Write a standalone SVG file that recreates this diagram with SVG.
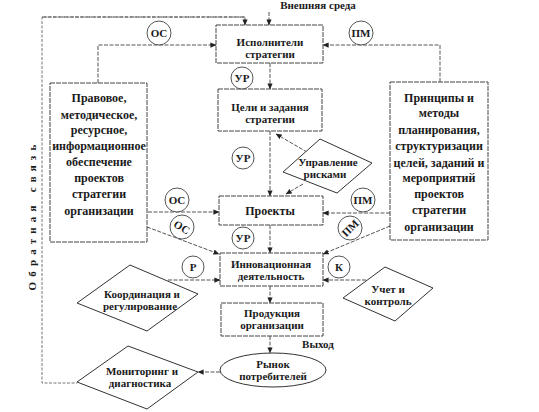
<svg xmlns="http://www.w3.org/2000/svg" width="539" height="412" viewBox="0 0 539 412">
<defs>
<marker id="ah" viewBox="0 0 8 8" refX="7.5" refY="4" markerWidth="6" markerHeight="6" orient="auto" markerUnits="userSpaceOnUse">
<path d="M0,0.5 L8,4 L0,7.5 Z" fill="#222"/>
</marker>
<style>
text{font-family:"Liberation Serif","Times New Roman",serif;font-weight:bold;fill:#1a1a1a;text-anchor:middle}
.t{font-size:12px}
.n{font-size:11px}
.s{font-size:11px}
.box{fill:#fff;stroke:#444;stroke-width:1;stroke-dasharray:5 1}
.dia{fill:#fff;stroke:#333;stroke-width:1}
.c{fill:#fff;stroke:#555;stroke-width:1}
.ln{fill:none;stroke:#555;stroke-width:1;stroke-dasharray:4 1.5}
.fb{fill:none;stroke:#777;stroke-width:1;stroke-dasharray:3 1.5}
</style>
</defs>
<rect width="539" height="412" fill="#fff"/>

<g id="connectors">
<path class="fb" d="M245,17 H42 V383 H77"/>
<path class="ln" d="M42,17 H245 V25" marker-end="url(#ah)"/>
<path class="ln" d="M269,12 V25" marker-end="url(#ah)"/>
<path class="ln" d="M98,83 V45 H216" marker-end="url(#ah)"/>
<path class="ln" d="M440,82 V45 H323" marker-end="url(#ah)"/>
<path class="ln" d="M270,63 V89" marker-end="url(#ah)"/>
<path class="ln" d="M270,131 V196" marker-end="url(#ah)"/>
<path class="ln" d="M312,155 L276,134" marker-end="url(#ah)"/>
<path class="ln" d="M303,184 L286,194" marker-end="url(#ah)"/>
<path class="ln" d="M148,212 H219" marker-end="url(#ah)"/>
<path class="ln" d="M390,213 H323" marker-end="url(#ah)"/>
<path class="ln" d="M147,227 L219,254" marker-end="url(#ah)"/>
<path class="ln" d="M390,226 L323,254" marker-end="url(#ah)"/>
<path class="ln" d="M270,225 V253" marker-end="url(#ah)"/>
<path class="ln" d="M168,280 H220" marker-end="url(#ah)"/>
<path class="ln" d="M366,280 H323" marker-end="url(#ah)"/>
<path class="ln" d="M270,286 V303" marker-end="url(#ah)"/>
<path class="ln" d="M270,336 V353" marker-end="url(#ah)"/>
<path class="ln" d="M220,372 H198" marker-end="url(#ah)"/>
</g>

<g id="label-vneshnyaya">
<text class="n" x="318" y="9">Внешняя среда</text>
</g>
<g id="label-obratnaya">
<text class="s" transform="translate(36,215) rotate(-90)" letter-spacing="5.2">Обратная связь</text>
</g>
<g id="label-vykhod">
<text class="n" x="318" y="348">Выход</text>
</g>

<g id="node-ispolniteli">
<rect class="box" x="216" y="25" width="107" height="38"/>
<text class="n" x="270" y="46">Исполнители</text>
<text class="n" x="270" y="58">стратегии</text>
</g>
<g id="node-tseli">
<rect class="box" x="218" y="89" width="104" height="42"/>
<text class="n" x="270" y="111">Цели и задания</text>
<text class="n" x="270" y="123">стратегии</text>
</g>
<g id="node-proekty">
<rect class="box" x="219" y="196" width="104" height="29"/>
<text class="t" x="270" y="215">Проекты</text>
</g>
<g id="node-innov">
<rect class="box" x="220" y="253" width="103" height="33"/>
<text class="n" x="271" y="268">Инновационная</text>
<text class="n" x="271" y="280">деятельность</text>
</g>
<g id="node-produktsiya">
<rect class="box" x="221" y="303" width="102" height="33"/>
<text class="n" x="272" y="317">Продукция</text>
<text class="n" x="272" y="329">организации</text>
</g>
<g id="node-rynok">
<ellipse class="dia" cx="273" cy="370" rx="53" ry="17"/>
<text class="n" x="273" y="368">Рынок</text>
<text class="n" x="273" y="380">потребителей</text>
</g>

<g id="node-pravovoe">
<rect class="box" x="50" y="83" width="97" height="159"/>
<text class="t" x="99" y="102">Правовое,</text>
<text class="t" x="99" y="119">методическое,</text>
<text class="t" x="99" y="134">ресурсное,</text>
<text class="t" x="99" y="150">информационное</text>
<text class="t" x="99" y="166">обеспечение</text>
<text class="t" x="99" y="182">проектов</text>
<text class="t" x="99" y="198">стратегии</text>
<text class="t" x="99" y="215">организации</text>
</g>
<g id="node-printsipy">
<rect class="box" x="390" y="82" width="98" height="158"/>
<text class="t" x="439" y="102">Принципы и</text>
<text class="t" x="439" y="117">методы</text>
<text class="t" x="439" y="134">планирования,</text>
<text class="t" x="439" y="150">структуризации</text>
<text class="t" x="439" y="167">целей, заданий и</text>
<text class="t" x="439" y="182">мероприятий</text>
<text class="t" x="439" y="198">проектов</text>
<text class="t" x="439" y="214">стратегии</text>
<text class="t" x="439" y="231">организации</text>
</g>

<g id="node-upravlenie">
<polygon class="dia" points="320,139 372,163 337,193 283,172"/>
<text class="n" x="328" y="166">Управление</text>
<text class="n" x="325" y="178">рисками</text>
</g>
<g id="node-koordinatsiya">
<polygon class="dia" points="130,265 198,294 147,331 77,303"/>
<text class="n" x="142" y="298">Координация и</text>
<text class="n" x="140" y="310">регулирование</text>
</g>
<g id="node-uchet">
<polygon class="dia" points="385,267 433,288 395,321 343,298"/>
<text class="n" x="388" y="293">Учет и</text>
<text class="n" x="388" y="305">контроль</text>
</g>
<g id="node-monitoring">
<polygon class="dia" points="128,346 198,372 147,409 77,382"/>
<text class="n" x="142" y="375">Мониторинг и</text>
<text class="n" x="140" y="387">диагностика</text>
</g>

<g id="circle-os1"><circle class="c" cx="159" cy="33" r="12"/><text class="s" x="159" y="37">ОС</text></g>
<g id="circle-pm1"><circle class="c" cx="361" cy="33" r="12"/><text class="s" x="361" y="37">ПМ</text></g>
<g id="circle-ur1"><circle class="c" cx="242" cy="78" r="11"/><text class="s" x="242" y="82">УР</text></g>
<g id="circle-ur2"><circle class="c" cx="243" cy="158" r="11"/><text class="s" x="243" y="162">УР</text></g>
<g id="circle-os2"><circle class="c" cx="177" cy="200" r="12"/><text class="s" x="177" y="204">ОС</text></g>
<g id="circle-os3"><circle class="c" cx="182" cy="227" r="12"/><text class="s" transform="translate(182,227) rotate(30)" x="0" y="4">ОС</text></g>
<g id="circle-pm2"><circle class="c" cx="363" cy="200" r="12"/><text class="s" x="363" y="204">ПМ</text></g>
<g id="circle-pm3"><circle class="c" cx="350" cy="228" r="12"/><text class="s" transform="translate(350,228) rotate(-45)" x="0" y="4">ПМ</text></g>
<g id="circle-ur3"><circle class="c" cx="243" cy="238" r="11"/><text class="s" x="243" y="242">УР</text></g>
<g id="circle-r"><circle class="c" cx="193" cy="267" r="11"/><text class="s" x="193" y="271">Р</text></g>
<g id="circle-k"><circle class="c" cx="339" cy="267" r="11"/><text class="s" x="339" y="271">К</text></g>
</svg>
